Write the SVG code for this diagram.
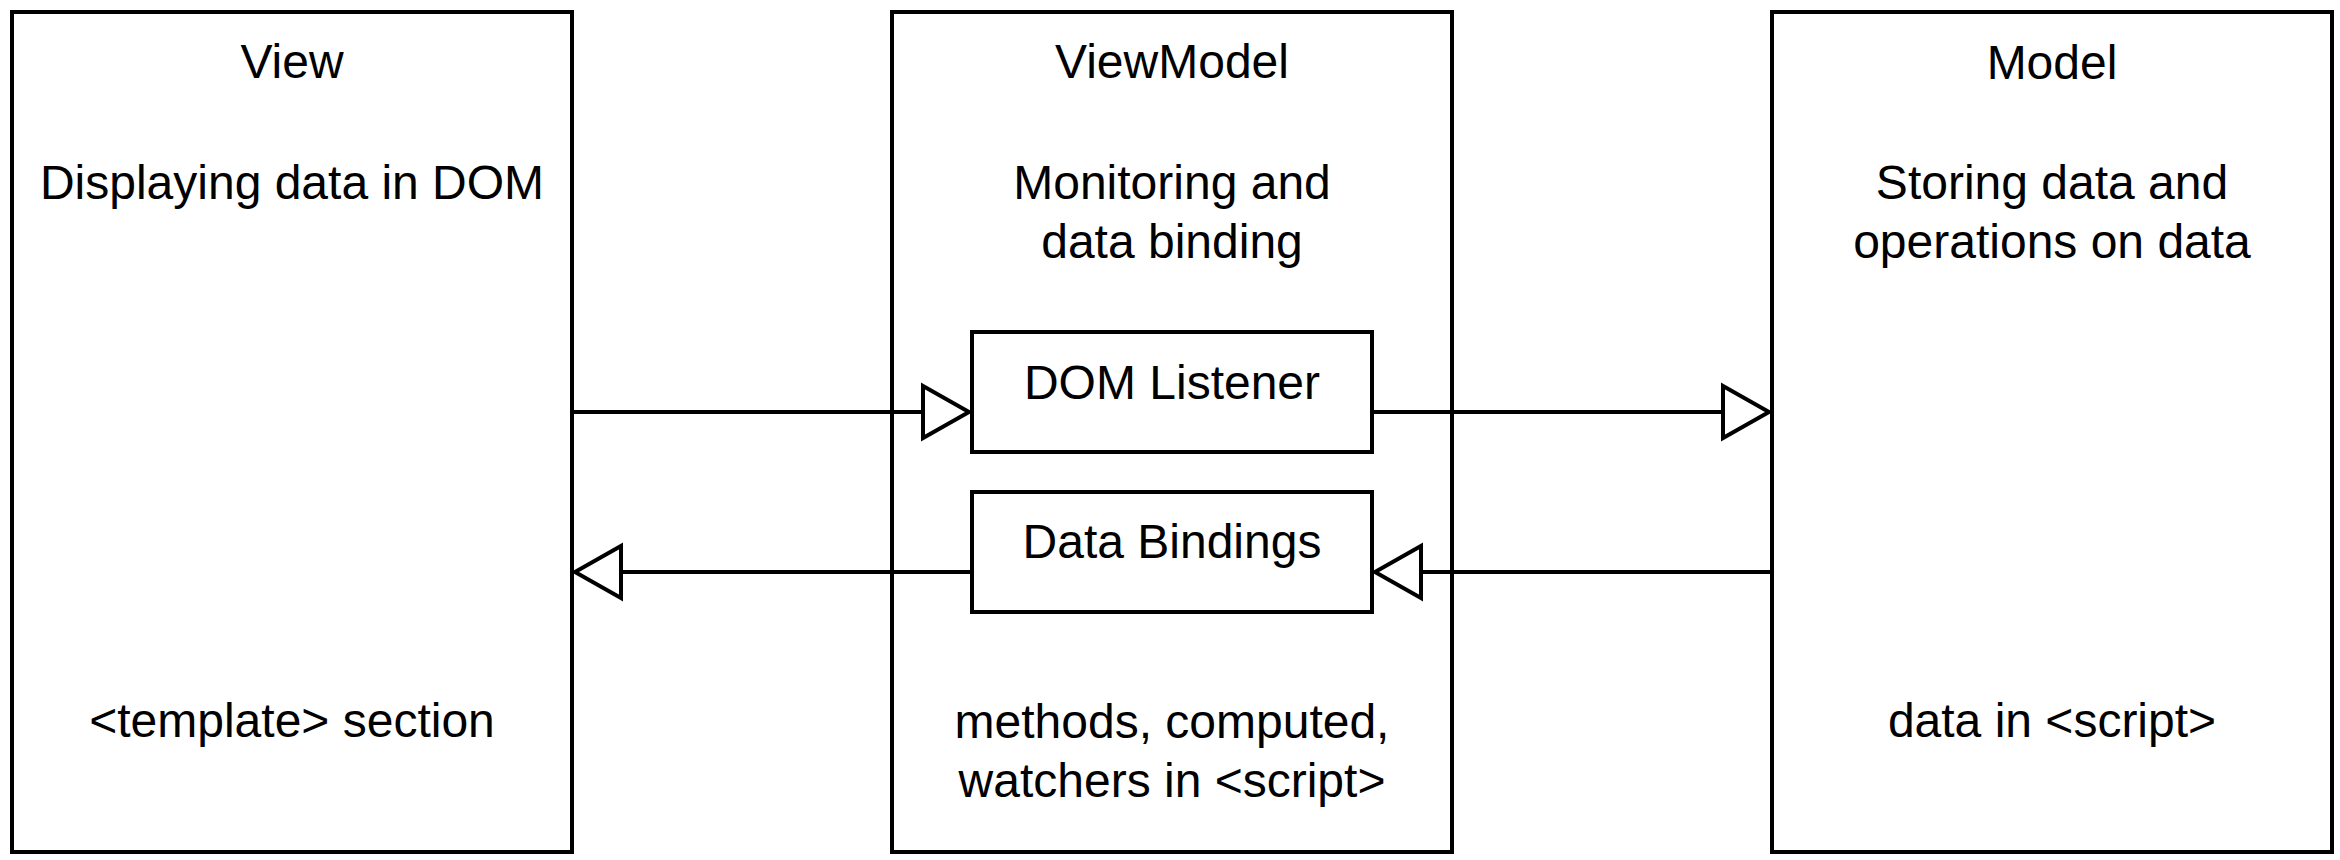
<svg xmlns="http://www.w3.org/2000/svg" width="2340" height="860" viewBox="0 0 2340 860">
  <style>
    .box { fill: #ffffff; stroke: #000000; stroke-width: 4; }
    .lbl { font-family: "Liberation Sans", Arial, Helvetica, sans-serif; font-size: 48px; fill: #000000; text-anchor: middle; }
    .conn { fill: none; stroke: #000000; stroke-width: 4; }
  </style>
  <defs>
    <marker id="openTri" markerUnits="userSpaceOnUse" viewBox="-4 -4 56 62" refX="46" refY="26" markerWidth="56" markerHeight="62" orient="auto" overflow="visible">
      <path d="M0,0 L46,26 L0,52 Z" fill="#ffffff" stroke="#000000" stroke-width="4"/>
    </marker>
  </defs>
  <rect x="0" y="0" width="2340" height="860" fill="#ffffff"/>

  <g id="view">
    <rect class="box" x="12" y="12" width="560" height="840"/>
    <text class="lbl" x="292" y="78">View</text>
    <text class="lbl" x="292" y="199">Displaying data in DOM</text>
    <text class="lbl" x="292" y="737">&lt;template&gt; section</text>
  </g>

  <g id="viewmodel">
    <rect class="box" x="892" y="12" width="560" height="840"/>
    <text class="lbl" x="1172" y="78">ViewModel</text>
    <text class="lbl" x="1172" y="199">Monitoring and</text>
    <text class="lbl" x="1172" y="258">data binding</text>
    <text class="lbl" x="1172" y="738">methods, computed,</text>
    <text class="lbl" x="1172" y="797">watchers in &lt;script&gt;</text>
  </g>

  <g id="model">
    <rect class="box" x="1772" y="12" width="560" height="840"/>
    <text class="lbl" x="2052" y="79">Model</text>
    <text class="lbl" x="2052" y="199">Storing data and</text>
    <text class="lbl" x="2052" y="258">operations on data</text>
    <text class="lbl" x="2052" y="737">data in &lt;script&gt;</text>
  </g>

  <g id="dom-listener">
    <rect class="box" x="972" y="332" width="400" height="120"/>
    <text class="lbl" x="1172" y="399">DOM Listener</text>
  </g>

  <g id="data-bindings">
    <rect class="box" x="972" y="492" width="400" height="120"/>
    <text class="lbl" x="1172" y="558">Data Bindings</text>
  </g>

  <g id="connectors">
    <path class="conn" d="M572,412 L969,412" marker-end="url(#openTri)"/>
    <path class="conn" d="M1372,412 L1769,412" marker-end="url(#openTri)"/>
    <path class="conn" d="M1772,572 L1375,572" marker-end="url(#openTri)"/>
    <path class="conn" d="M972,572 L575,572" marker-end="url(#openTri)"/>
  </g>
</svg>
